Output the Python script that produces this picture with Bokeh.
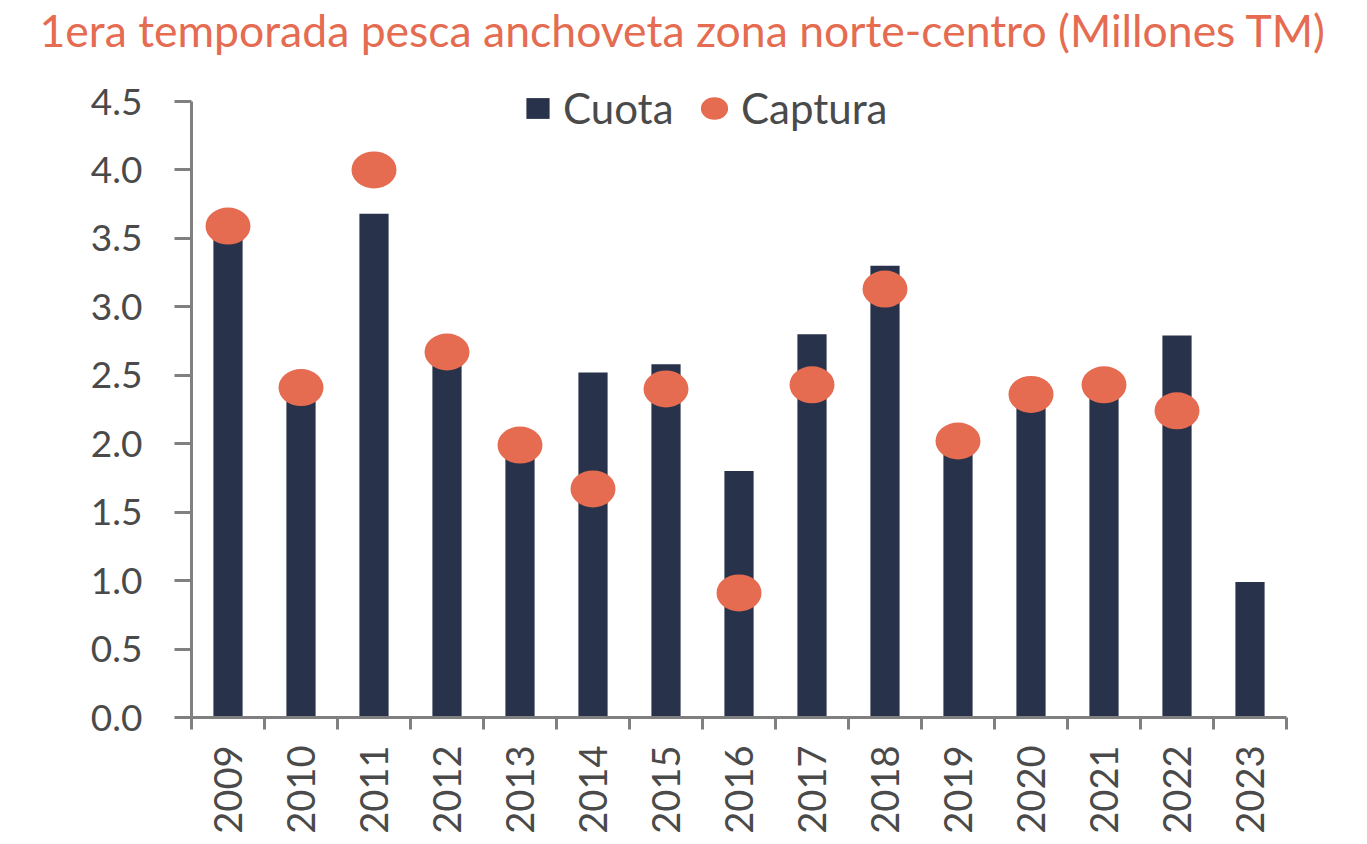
import math
from bokeh.plotting import figure
from bokeh.models import (Range1d, FixedTicker, Legend, LegendItem, ColumnDataSource)
from bokeh.embed import file_html
from bokeh.resources import INLINE

# ---- data ----
years = ["2009", "2010", "2011", "2012", "2013", "2014", "2015", "2016",
         "2017", "2018", "2019", "2020", "2021", "2022", "2023"]
cuota = [3.55, 2.35, 3.68, 2.60, 1.93, 2.52, 2.58, 1.80, 2.80, 3.30, 1.95, 2.30, 2.38, 2.79, 0.99]
captura = [3.59, 2.41, 4.00, 2.67, 1.99, 1.67, 2.40, 0.91, 2.43, 3.13, 2.02, 2.36, 2.43, 2.24, None]
y_ticks = [0.0, 0.5, 1.0, 1.5, 2.0, 2.5, 3.0, 3.5, 4.0, 4.5]
title_text = "1era temporada pesca anchoveta zona norte-centro (Millones TM)"

BAR = "#28324A"
DOT = "#E56B51"
AXIS = "#808080"
TXT = "#4A4A4A"
FONT = "Lato"

FRAME_W, FRAME_H = 1095, 659
Y_MAX_AXIS = 4.5
Y_TOP = Y_MAX_AXIS * FRAME_H / 616  # headroom for legend

idx = list(range(len(years)))
bar_src = ColumnDataSource(dict(x=idx, top=cuota))
cap_x = [i for i, v in zip(idx, captura) if v is not None]
cap_y = [v for v in captura if v is not None]
dot_src = ColumnDataSource(dict(x=cap_x, y=cap_y))

p = figure(frame_width=FRAME_W, frame_height=FRAME_H, output_backend="svg", toolbar_location=None,
           x_range=Range1d(-0.5, len(years) - 0.5), y_range=Range1d(0, Y_TOP),
           min_border_left=191, min_border_right=65, min_border_top=58, min_border_bottom=119)

p.title.text = title_text
p.title.text_font = FONT
p.title.text_font_size = "44.5px"
p.title.text_font_style = "normal"
p.title.text_color = DOT
p.title.align = "left"
p.title.vertical_align = "top"
p.title.offset = -152
p.title.standoff = 2

p.outline_line_color = None
p.xgrid.grid_line_color = None
p.ygrid.grid_line_color = None
p.background_fill_color = "white"
p.border_fill_color = "white"

bars = p.vbar(x="x", top="top", width=0.4, source=bar_src, fill_color=BAR, line_color=None)
dots = p.ellipse(x="x", y="y", width=45, height=37, width_units="screen", height_units="screen",
                 source=dot_src, fill_color=DOT, line_color=None)

# x axis
xa = p.xaxis[0]
xa.ticker = FixedTicker(ticks=idx, minor_ticks=[i - 0.5 for i in range(len(years) + 1)])
xa.major_label_overrides = {i: y for i, y in zip(idx, years)}
xa.major_label_orientation = math.pi / 2
xa.major_tick_out = 0
xa.major_tick_in = 0
xa.minor_tick_out = 12
xa.minor_tick_in = 0
xa.minor_tick_line_color = AXIS
xa.minor_tick_line_width = 3
xa.axis_line_color = AXIS
xa.axis_line_width = 3
xa.major_label_text_font = FONT
xa.major_label_text_font_size = "38px"
xa.major_label_text_color = TXT
xa.major_label_standoff = 16

# y axis
ya = p.yaxis[0]
ya.bounds = (0, Y_MAX_AXIS)
ya.ticker = FixedTicker(ticks=y_ticks)
ya.major_label_overrides = {t: f"{t:.1f}" for t in y_ticks}
ya.major_tick_out = 17
ya.major_tick_in = 0
ya.minor_tick_out = 0
ya.minor_tick_in = 0
ya.major_tick_line_color = AXIS
ya.major_tick_line_width = 3
ya.axis_line_color = AXIS
ya.axis_line_width = 3
ya.major_label_text_font = FONT
ya.major_label_text_font_size = "37px"
ya.major_label_text_color = TXT
ya.major_label_standoff = 32

# legends
leg1 = Legend(items=[LegendItem(label="Cuota", renderers=[bars])],
              location=(332, 584), orientation="horizontal",
              glyph_width=29, glyph_height=26, label_standoff=11,
              padding=0, margin=0, border_line_color=None, background_fill_alpha=0,
              label_text_font=FONT, label_text_font_size="42px", label_text_color=TXT)
leg2 = Legend(items=[LegendItem(label="Captura", renderers=[dots])],
              location=(506, 584), orientation="horizontal",
              glyph_width=34, glyph_height=34, label_standoff=10,
              padding=0, margin=0, border_line_color=None, background_fill_alpha=0,
              label_text_font=FONT, label_text_font_size="42px", label_text_color=TXT)
p.add_layout(leg1)
p.add_layout(leg2)

open("out.html", "w").write(file_html(p, INLINE))
